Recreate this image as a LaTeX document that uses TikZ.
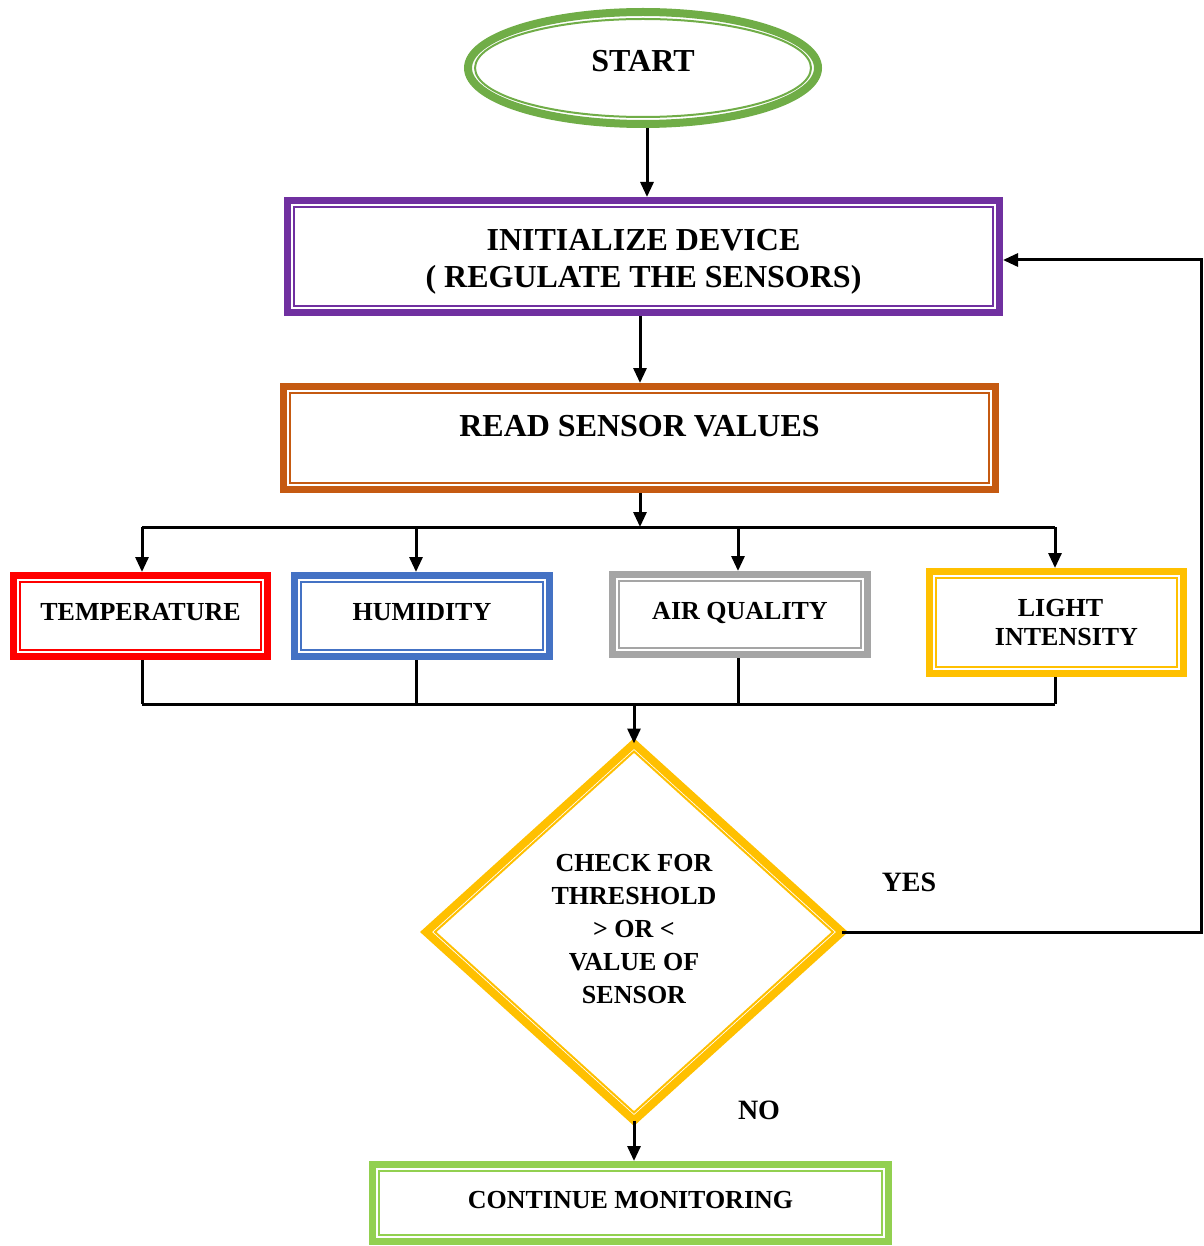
\documentclass[tikz,border=0pt]{standalone}
\usepackage{fontspec}
\setmainfont{Liberation Serif}
\usetikzlibrary{shapes.geometric, arrows.meta}
\definecolor{cstart}{HTML}{70AD47}
\definecolor{cpurple}{HTML}{7030A0}
\definecolor{corange}{HTML}{C55A11}
\definecolor{cred}{HTML}{FF0000}
\definecolor{cblue}{HTML}{4472C4}
\definecolor{cgray}{HTML}{A5A5A5}
\definecolor{cgold}{HTML}{FFC000}
\definecolor{clgreen}{HTML}{92D050}
\begin{document}
\begin{tikzpicture}[x=1pt,y=-1pt,
  box/.style={draw=#1, line width=7pt, fill=white, inner sep=0pt, outer sep=3.5pt,
    font=\bfseries\fontsize{26}{29}\selectfont, align=center},
  bigtext/.style={font=\bfseries\fontsize{32}{37}\selectfont},
  inline/.style={draw=#1, line width=2pt},
  conn/.style={line width=3pt, draw=black},
  arr/.style={conn, -{Triangle[length=15pt,width=13pt]}},
  lbl/.style={font=\bfseries\fontsize{28}{30}\selectfont, inner sep=0pt}]
\useasboundingbox (0,0) rectangle (1203,1246);

% start
\node[ellipse, draw=cstart, line width=8pt, fill=white, minimum width=350pt, minimum height=112pt,
  inner sep=0pt, bigtext, text height=21pt, text depth=14pt] (start) at (643,68) {START};
\draw[inline=cstart] (start.center) ellipse [x radius=168, y radius=49];

% init
\node[box=cpurple, bigtext, minimum width=712pt, minimum height=112pt, text height=68pt] (init) at (643.5,256.5)
  {INITIALIZE DEVICE\\( REGULATE THE SENSORS)};
% read
\node[box=corange, bigtext, minimum width=712pt, minimum height=103pt, text height=22pt, text depth=26pt]
  (read) at (639.5,438) {READ SENSOR VALUES};
% sensors
\node[box=cred, minimum width=254pt, minimum height=81pt, text height=17pt, text depth=8pt]
  (temp) at (140.5,616) {TEMPERATURE};
\node[box=cblue, minimum width=255pt, minimum height=81pt, text height=17pt, text depth=8pt]
  (hum) at (422,616) {HUMIDITY};
\node[box=cgray, minimum width=255pt, minimum height=80pt, text height=17pt, text depth=8pt]
  (air) at (740,614.5) {AIR QUALITY};
\node[box=cgold, minimum width=254pt, minimum height=102pt]
  (light) at (1056.5,622.5) {\hspace*{8pt}LIGHT\\\hspace*{20pt}INTENSITY};
% continue
\node[box=clgreen, minimum width=516pt, minimum height=77pt, text height=17pt, text depth=6pt]
  (cont) at (630.5,1203) {CONTINUE MONITORING};

% decision
\node[diamond, draw=cgold, line width=8pt, fill=white, minimum width=416pt, minimum height=377pt,
  inner sep=0pt, outer sep=0pt, align=center, text height=143pt, font=\bfseries\fontsize{26}{33}\selectfont]
  (dia) at (634,932) {CHECK FOR\\THRESHOLD\\> OR <\\VALUE OF\\SENSOR};
\draw[inline=cgold] ([yshift=-8pt]dia.north) -- ([xshift=-9pt]dia.east) -- ([yshift=8pt]dia.south)
  -- ([xshift=9pt]dia.west) -- cycle;

% inner frames
\foreach \n/\c in {init/cpurple, read/corange, temp/cred, hum/cblue, air/cgray, light/cgold, cont/clgreen}
  \draw[inline=\c] ([shift={(10pt,-10pt)}]\n.north west) rectangle ([shift={(-10pt,10pt)}]\n.south east);

% labels
\node[lbl] (yes) at (909,882) {YES};
\node[lbl] (no) at (759,1110) {NO};

% coordinates
\coordinate (bl) at (142,527);
\coordinate (bm) at (640,527);
\coordinate (br) at (1055,527);
\coordinate (ml) at (142,704);
\coordinate (mm) at (634,704);
\coordinate (mr) at (1055,704);
\coordinate (yt) at (1201,260);

% connectors
\draw[arr] ([xshift=4pt]start.south) -- ([xshift=4pt]start.south |- init.north);
\draw[arr] (bm |- init.south) -- (bm |- read.north);
\draw[arr] (bm |- read.south) -- (bm);
\draw[conn] (bl) -- (br);
\draw[arr] (bl) -- (bl |- temp.north);
\draw[arr] (416,527) -- (416,572);
\draw[arr] (738,527) -- (738,571);
\draw[arr] (br) -- (br |- light.north);
\draw[conn] (bl |- temp.south) -- (ml);
\draw[conn] (416,660) -- (416,704);
\draw[conn] (738,658) -- (738,704);
\draw[conn] (br |- light.south) -- (mr);
\draw[conn] (ml) -- (mr);
\draw[arr] (mm) -- (dia.north);
\draw[arr] (dia.east) -- (dia.east -| yt) -- (yt) -- (yt -| init.east);
\draw[arr] (dia.south) -- (dia.south |- cont.north);
\end{tikzpicture}
\end{document}
